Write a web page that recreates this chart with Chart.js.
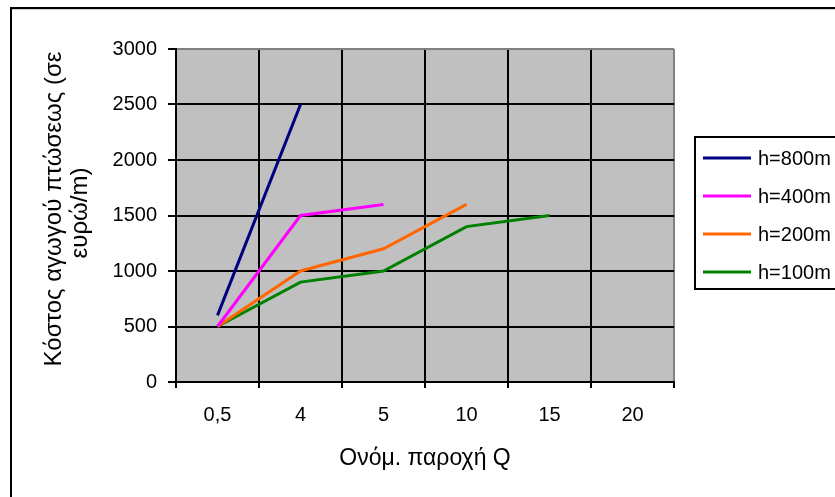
<!DOCTYPE html>
<html>
<head>
<meta charset="utf-8">
<script src="https://cdn.jsdelivr.net/npm/chart.js@4/dist/chart.umd.min.js"></script>
<style>
  html, body { margin: 0; padding: 0; background: #ffffff; }
  #wrap { width: 835px; height: 497px; position: relative; }
</style>
</head>
<body>
<div id="wrap"><canvas id="c" width="835" height="497"></canvas></div>
<script>
// Nominal flow categories (Q)
const categories = ['0,5', '4', '5', '10', '15', '20'];

// Cost of penstock per metre for each head height
const h800 = [600, 2500];
const h400 = [500, 1500, 1600];
const h200 = [500, 1000, 1200, 1600];
const h100 = [500, 900, 1000, 1400, 1500];

const seriesNames = ['h=800m', 'h=400m', 'h=200m', 'h=100m'];
const seriesColors = ['#000080', '#FF00FF', '#FF6600', '#008000'];

const yTitle = ['Κόστος αγωγού πτώσεως (σε', 'ευρώ/m)'];
const xTitle = 'Ονόμ. παροχή Q';

const FONT = '"Liberation Sans", Arial, sans-serif';

// Gray plot background, outer frame, rotated y title and legend box
const decor = {
  id: 'decor',
  beforeDraw(chart) {
    const { ctx, chartArea: a } = chart;
    ctx.save();
    ctx.fillStyle = '#C0C0C0';
    ctx.fillRect(a.left, a.top, a.right - a.left, a.bottom - a.top);
    ctx.restore();
  },
  afterDraw(chart) {
    const { ctx } = chart;
    ctx.save();
    // outer frame (top and left edges)
    ctx.fillStyle = '#000';
    ctx.fillRect(10, 7, 835 - 10, 2);
    ctx.fillRect(10, 7, 2, 497 - 7);
    ctx.fillStyle = '#d0d0d0';
    ctx.fillRect(12, 9, 835 - 12, 1);

    // y axis title, two rotated lines
    ctx.fillStyle = '#000';
    ctx.font = '24px ' + FONT;
    ctx.textAlign = 'center';
    ctx.textBaseline = 'middle';
    const ys = [209, 213];
    const xs = [54, 80];
    yTitle.forEach((line, i) => {
      ctx.save();
      ctx.translate(xs[i], ys[i]);
      ctx.rotate(-Math.PI / 2);
      ctx.fillText(line, 0, 0);
      ctx.restore();
    });

    // legend
    const lx = 695, ly = 137, lw = 160, lh = 152;
    ctx.strokeStyle = '#000';
    ctx.lineWidth = 2;
    ctx.strokeRect(lx, ly, lw, lh);
    ctx.font = '20px ' + FONT;
    ctx.textBaseline = 'middle';
    ctx.textAlign = 'left';
    chart.data.datasets.forEach((ds, i) => {
      const y = 158 + i * 38;
      ctx.strokeStyle = ds.borderColor;
      ctx.lineWidth = 3;
      ctx.beginPath();
      ctx.moveTo(703, y);
      ctx.lineTo(751, y);
      ctx.stroke();
      ctx.fillStyle = '#000';
      ctx.fillText(ds.label, 758, y + 1);
    });
    ctx.restore();
  }
};

const datasets = [h800, h400, h200, h100].map((vals, i) => ({
  label: seriesNames[i],
  data: vals,
  borderColor: seriesColors[i],
  backgroundColor: seriesColors[i],
  borderWidth: 3,
  pointRadius: 0,
  pointHoverRadius: 0,
  tension: 0,
  fill: false
}));

new Chart(document.getElementById('c'), {
  type: 'line',
  data: { labels: categories, datasets },
  plugins: [decor],
  options: {
    responsive: false,
    animation: false,
    events: [],
    layout: { padding: { top: 49, right: 161, bottom: 0, left: 0 } },
    plugins: { legend: { display: false }, tooltip: { enabled: false } },
    scales: {
      x: {
        type: 'category',
        offset: true,
        grid: {
          offset: true,
          color: (c) => (c.index === undefined ? '#808080' : '#000'),
          lineWidth: 2,
          tickColor: '#000',
          tickLength: 6,
          drawTicks: true
        },
        border: { color: '#000', width: 2 },
        ticks: {
          color: '#000',
          font: { family: FONT, size: 20 },
          padding: 15,
          maxRotation: 0,
          autoSkip: false
        },
        title: {
          display: true,
          text: xTitle,
          color: '#000',
          font: { family: FONT, size: 23 },
          padding: { top: 0, bottom: 25 }
        },
        afterFit(scale) { scale.height = 115; }
      },
      y: {
        min: 0,
        max: 3000,
        grid: {
          color: (c) => (c.tick && c.tick.value === 3000 ? '#808080' : '#000'),
          lineWidth: 2,
          tickColor: '#000',
          tickLength: 8
        },
        border: { color: '#000', width: 2 },
        ticks: {
          stepSize: 500,
          color: '#000',
          font: { family: FONT, size: 20 },
          padding: 11,
          callback: (v) => String(v)
        },
        afterFit(scale) { scale.width = 176; }
      }
    }
  }
});
</script>
</body>
</html>
